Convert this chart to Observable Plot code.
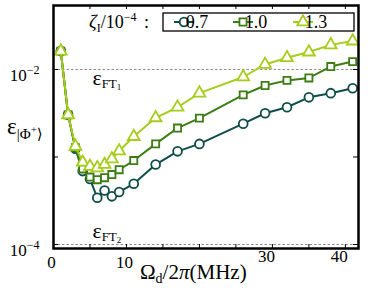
<!DOCTYPE html>
<html><head><meta charset="utf-8">
<script src="https://cdn.jsdelivr.net/npm/d3@7"></script>
<script src="https://cdn.jsdelivr.net/npm/@observablehq/plot@0.6"></script>
<style>body{margin:0;background:#fff} svg text{font-family:"Liberation Serif","DejaVu Serif",serif}</style>
</head><body><div id="chart"></div>
<script>
// drive strength Omega_d/2pi (MHz)
const drive = [1,2,3,4,5,6,7,8,9,11,14,17,20,26,29,32,35,38,41];
// Bell-state error for zeta_I/1e-4 = 0.7, 1.0, 1.3
const err07 = [0.0162,0.00303,0.00124,0.00069,0.00056,0.000342,0.000414,0.000355,0.000398,0.000494,0.00082,0.00116,0.00141,0.0024,0.00316,0.0037,0.0048,0.00536,0.0061];
const err10 = [0.0162,0.00303,0.00128,0.00073,0.00059,0.00055,0.00058,0.00063,0.000715,0.00091,0.00141,0.00214,0.00278,0.00513,0.00656,0.0075,0.008,0.0108,0.0123];
const err13 = [0.0162,0.00303,0.00132,0.00087,0.00078,0.00075,0.00082,0.00095,0.00117,0.00171,0.0028,0.0037,0.00536,0.0082,0.0114,0.0136,0.0158,0.0191,0.0211];
const seriesLabels = ["0.7","1.0","1.3"];
const seriesColors = ["#0f4d49","#3c7c14","#a6cd1d"];
const seriesSymbols = ["circle","square","triangle"];
const thresholds = [1e-2, 1e-4];
const xTicks = [0,5,10,15,20,25,30,35,40];
const xLabelsLow = [0,10];
const xLabelsHigh = [30,40];
const yTicks = [1e-2,1e-3,1e-4];
const yLabeled = [1e-2,1e-4];

const W = 374, H = 288, mL = 53, mR = 16, mT = 5, mB = 40;
const FONT = "Liberation Serif, DejaVu Serif, serif";
const allSeries = [err07, err10, err13];
const rows = allSeries.flatMap((arr, i) => arr.map((v, j) => ({x: drive[j], y: v, s: i})));

const marks = [
  Plot.ruleY(thresholds, {y: d => d, stroke: "#8a8a8a", strokeWidth: 1, strokeDasharray: "2.5,2"})
];
allSeries.forEach((arr, i) => {
  const data = rows.filter(r => r.s === i);
  marks.push(Plot.line(data, {x: "x", y: "y", stroke: seriesColors[i], strokeWidth: 2}));
  marks.push(Plot.dot(data, {x: "x", y: "y", symbol: () => seriesSymbols[i], r: i === 1 ? 4 : 4.4, stroke: seriesColors[i], fill: "white", strokeWidth: 1.8}));
});
const innerH = H - mT - mB, innerW = W - mL - mR;
marks.push(
  Plot.tickX(xTicks, {x: d => d, insetTop: innerH - 4, stroke: "black", strokeWidth: 1}),
  Plot.tickX(xTicks, {x: d => d, insetBottom: innerH - 4, stroke: "black", strokeWidth: 1}),
  Plot.tickY(yTicks, {y: d => d, insetRight: innerW - 5, stroke: "black", strokeWidth: 1}),
  Plot.tickY(yTicks, {y: d => d, insetLeft: innerW - 5, stroke: "black", strokeWidth: 1}),
  Plot.frame({stroke: "black", strokeWidth: 2.5}),
  Plot.axisX(xLabelsLow, {tickSize: 0, tickPadding: 7, dx: -2, fontSize: 17, label: null}),
  Plot.axisX(xLabelsHigh, {tickSize: 0, tickPadding: 1, dx: -6, fontSize: 17, label: null}),
  Plot.axisY(yLabeled, {tickSize: 0, tickPadding: 14, dy: 6, fontSize: 17, label: null,
    tickFormat: d => "10^" + Math.round(Math.log10(d))})
);

const svg = Plot.plot({
  width: W, height: H,
  marginLeft: mL, marginRight: mR, marginTop: mT, marginBottom: mB,
  style: {fontFamily: FONT, fontSize: "17px", color: "black", background: "white"},
  x: {domain: [0, 41.8]},
  y: {type: "log", domain: [9.0e-5, 0.0538]},
  marks
});
document.getElementById("chart").appendChild(svg);

const root = d3.select(svg);
// superscripts on y tick labels
root.selectAll('g[aria-label="y-axis tick label"] text').each(function() {
  const t = this.textContent;
  if (!t.includes("^")) return;
  const [base, exp] = t.split("^");
  const el = d3.select(this);
  el.text(base);
  el.append("tspan").attr("dy", "-0.55em").attr("font-size", 12).text(exp.replace("-", "\u2212"));
});

const X = svg.scale("x"), Y = svg.scale("y");

function mathText(x, y, parts, anchor) {
  const t = root.append("text").attr("x", x).attr("y", y)
    .attr("fill", "black").attr("text-anchor", anchor || "start");
  parts.forEach(p => {
    const s = t.append("tspan").text(p.t).attr("font-size", p.size);
    if (p.dy) s.attr("dy", p.dy);
    if (p.italic) s.attr("font-style", "italic");
    if (p.dx) s.attr("dx", p.dx);
  });
  return t;
}

// threshold labels
const ftX = X.apply(5.4);
mathText(ftX, Y.apply(1e-2) + 16, [
  {t: "\u03b5", size: 22}, {t: "FT", size: 13, dy: 3}, {t: "1", size: 9, dy: 2}
]);
mathText(ftX, Y.apply(1e-4) - 6, [
  {t: "\u03b5", size: 22}, {t: "FT", size: 13, dy: 3}, {t: "2", size: 9, dy: 2}
]);

// y axis label
mathText(7, 134, [
  {t: "\u03b5", size: 23}, {t: "|\u03a6", size: 15, dy: 5}, {t: "+", size: 11, dy: -6}, {t: "\u27e9", size: 15, dy: 6}
]);

// x axis label
mathText(140, 279, [
  {t: "\u03a9", size: 21}, {t: "d", size: 14, dy: 4}, {t: "/2", size: 21, dy: -4},
  {t: "\u03c0", size: 21, italic: true}, {t: "(MHz)", size: 21}
]);

// legend title
mathText(89, 28, [
  {t: "\u03b6", size: 19, italic: true}, {t: "I", size: 12, dy: 4}, {t: "/10", size: 18, dy: -4},
  {t: "\u22124", size: 12, dy: -7}, {t: " :", size: 18, dy: 7, dx: 3}
]);

// legend box
root.append("rect").attr("x", 163).attr("y", 13).attr("width", 191).attr("height", 18)
  .attr("fill", "white").attr("stroke", "black").attr("stroke-width", 1.3);
const legX = [184, 243, 303];
const symTypes = [d3.symbolCircle, d3.symbolSquare, d3.symbolTriangle];
seriesLabels.forEach((lab, i) => {
  const cx = legX[i], cy = 22;
  root.append("line").attr("x1", cx - 10).attr("x2", cx + 10).attr("y1", cy).attr("y2", cy)
    .attr("stroke", seriesColors[i]).attr("stroke-width", 2);
  const r = i === 1 ? 4 : 4.3;
  root.append("path").attr("d", d3.symbol(symTypes[i], Math.PI * r * r)())
    .attr("transform", `translate(${cx},${cy})`)
    .attr("fill", "white").attr("stroke", seriesColors[i]).attr("stroke-width", 1.8);
  root.append("text").attr("x", cx + 13).attr("y", 28)
    .attr("font-size", 18).attr("fill", "black").text(lab);
});
</script></body></html>
